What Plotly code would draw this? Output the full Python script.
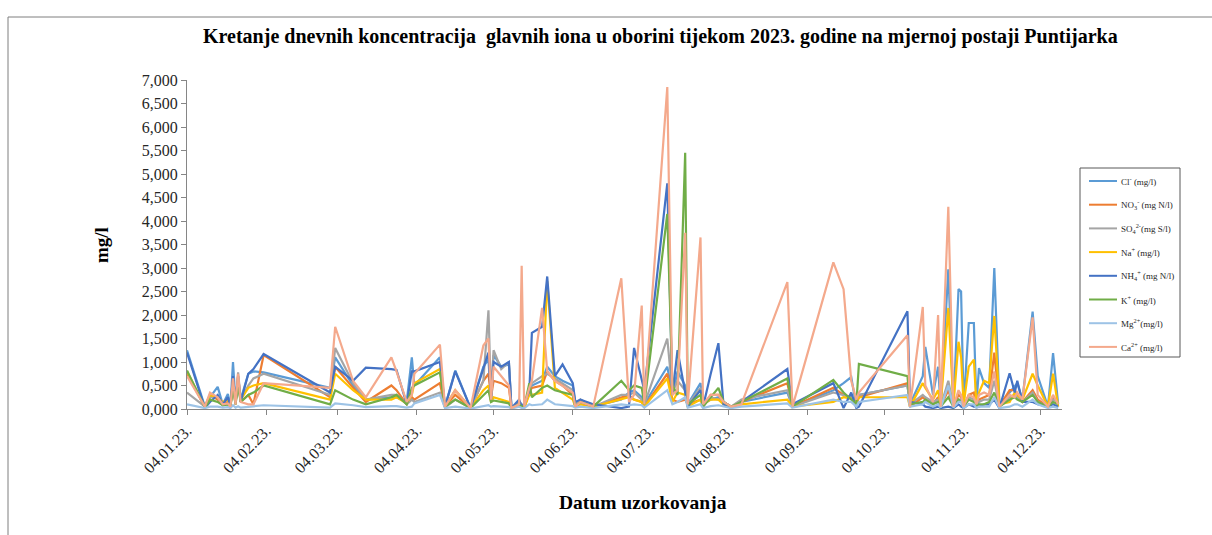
import plotly.graph_objects as go

# Sampling dates (daily precipitation samples, Puntijarka 2023)
dates = [
    "2023-01-04", "2023-01-11", "2023-01-13", "2023-01-16", "2023-01-18", "2023-01-20",
    "2023-01-21", "2023-01-22", "2023-01-23", "2023-01-24", "2023-01-25", "2023-01-28",
    "2023-01-30", "2023-02-03", "2023-03-01", "2023-03-03", "2023-03-10", "2023-03-15",
    "2023-03-25", "2023-03-27", "2023-03-31", "2023-04-02", "2023-04-03", "2023-04-13",
    "2023-04-15", "2023-04-19", "2023-04-25", "2023-04-30", "2023-05-02", "2023-05-03",
    "2023-05-04", "2023-05-07", "2023-05-10", "2023-05-11", "2023-05-14", "2023-05-15",
    "2023-05-16", "2023-05-18", "2023-05-19", "2023-05-23", "2023-05-25", "2023-05-28",
    "2023-05-31", "2023-06-04", "2023-06-05", "2023-06-07", "2023-06-12", "2023-06-23",
    "2023-06-26", "2023-06-28", "2023-07-01", "2023-07-02", "2023-07-11", "2023-07-13",
    "2023-07-15", "2023-07-18", "2023-07-19", "2023-07-24", "2023-07-25", "2023-07-28",
    "2023-07-31", "2023-08-02", "2023-08-05", "2023-08-09", "2023-08-27", "2023-08-29",
    "2023-09-14", "2023-09-18", "2023-09-21", "2023-09-23", "2023-09-24", "2023-10-13",
    "2023-10-14", "2023-10-19", "2023-10-20", "2023-10-23", "2023-10-25", "2023-10-26",
    "2023-10-29", "2023-10-31", "2023-11-02", "2023-11-03", "2023-11-04", "2023-11-06",
    "2023-11-08", "2023-11-09", "2023-11-10", "2023-11-12", "2023-11-14", "2023-11-16",
    "2023-11-18", "2023-11-22", "2023-11-24", "2023-11-25", "2023-11-27", "2023-12-01",
    "2023-12-03", "2023-12-07", "2023-12-09", "2023-12-11",
]

cl = [
    1.25, 0.05, 0.25, 0.47, 0.10, 0.32, 0.05, 1.00, 0.15, 0.70, 0.20, 0.75,
    0.80, 0.78, 0.45, 1.10, 0.50, 0.20, 0.25, 0.25, 0.15, 1.10, 0.50, 1.10,
    0.05, 0.82, 0.02, 0.90, 1.05, 0.20, 1.15, 0.90, 0.95, 0.02, 0.15, 0.10,
    0.05, 0.40, 0.50, 0.60, 0.90, 0.70, 0.60, 0.50, 0.10, 0.20, 0.05, 0.20,
    0.35, 0.40, 0.25, 0.10, 0.90, 0.30, 0.80, 0.50, 0.10, 0.55, 0.10, 0.20,
    0.25, 0.15, 0.05, 0.15, 0.35, 0.05, 0.40, 0.55, 0.68, 0.05, 0.30, 0.50,
    0.10, 0.70, 1.32, 0.30, 0.90, 0.05, 2.97, 0.05, 2.55, 2.50, 0.05, 1.83,
    1.83, 0.10, 0.87, 0.55, 0.45, 3.00, 0.10, 0.35, 0.50, 0.55, 0.20, 2.07,
    0.70, 0.05, 1.19, 0.10,
]
no3 = [
    0.75, 0.05, 0.30, 0.20, 0.10, 0.15, 0.05, 0.60, 0.10, 0.70, 0.15, 0.30,
    0.10, 1.15, 0.25, 0.90, 0.45, 0.15, 0.50, 0.40, 0.10, 0.25, 0.20, 0.55,
    0.05, 0.30, 0.02, 0.60, 0.75, 0.25, 0.60, 0.55, 0.45, 0.02, 0.10, 0.08,
    0.03, 0.35, 0.45, 0.50, 0.80, 0.60, 0.50, 0.30, 0.05, 0.15, 0.05, 0.25,
    0.30, 0.20, 0.15, 0.05, 0.75, 0.20, 0.15, 0.20, 0.10, 0.20, 0.05, 0.30,
    0.30, 0.15, 0.05, 0.15, 0.55, 0.05, 0.45, 0.30, 0.25, 0.10, 0.25, 0.55,
    0.05, 0.25, 0.20, 0.10, 0.25, 0.05, 0.40, 0.05, 0.30, 0.25, 0.05, 0.30,
    0.35, 0.05, 0.20, 0.25, 0.30, 1.20, 0.05, 0.40, 0.40, 0.30, 0.15, 0.40,
    0.20, 0.05, 0.25, 0.10,
]
so4 = [
    0.35, 0.05, 0.25, 0.25, 0.08, 0.10, 0.05, 0.55, 0.10, 0.78, 0.20, 0.50,
    0.65, 0.75, 0.30, 1.30, 0.55, 0.20, 0.30, 0.30, 0.10, 0.20, 0.15, 0.35,
    0.03, 0.20, 0.02, 0.60, 2.10, 0.25, 1.25, 0.85, 1.00, 0.02, 0.15, 0.08,
    0.03, 0.40, 0.55, 0.70, 0.75, 0.65, 0.55, 0.40, 0.10, 0.20, 0.05, 0.30,
    0.30, 0.35, 0.20, 0.10, 1.50, 0.35, 0.60, 0.40, 0.10, 0.45, 0.05, 0.25,
    0.20, 0.15, 0.05, 0.20, 0.40, 0.05, 0.35, 0.30, 0.25, 0.10, 0.30, 0.50,
    0.10, 0.30, 0.25, 0.15, 0.20, 0.05, 0.60, 0.05, 0.20, 0.20, 0.05, 0.25,
    0.20, 0.05, 0.15, 0.20, 0.20, 0.60, 0.05, 0.25, 0.30, 0.25, 0.15, 0.35,
    0.15, 0.05, 0.20, 0.15,
]
na = [
    0.80, 0.05, 0.30, 0.25, 0.15, 0.20, 0.05, 0.60, 0.15, 0.55, 0.20, 0.45,
    0.50, 0.55, 0.20, 0.75, 0.40, 0.20, 0.20, 0.25, 0.12, 0.30, 0.55, 0.85,
    0.05, 0.40, 0.02, 0.40, 0.50, 0.15, 0.25, 0.20, 0.15, 0.02, 0.10, 0.05,
    0.03, 0.30, 0.30, 0.35, 2.72, 0.45, 0.35, 0.20, 0.05, 0.10, 0.05, 0.20,
    0.25, 0.20, 0.15, 0.05, 0.65, 0.15, 0.35, 0.30, 0.05, 0.20, 0.10, 0.20,
    0.20, 0.10, 0.03, 0.10, 0.20, 0.05, 0.15, 0.25, 0.22, 0.15, 0.25, 0.25,
    0.05, 0.55, 0.45, 0.20, 0.40, 0.05, 2.15, 0.10, 1.43, 1.10, 0.10, 0.90,
    1.05, 0.10, 0.35, 0.60, 0.55, 1.98, 0.10, 0.15, 0.35, 0.30, 0.20, 0.75,
    0.50, 0.05, 0.75, 0.05,
]
nh4 = [
    1.20, 0.02, 0.15, 0.30, 0.10, 0.25, 0.05, 0.70, 0.15, 0.60, 0.15, 0.75,
    0.85, 1.17, 0.35, 0.90, 0.60, 0.88, 0.85, 0.83, 0.10, 0.80, 0.80, 1.00,
    0.05, 0.80, 0.02, 0.90, 1.20, 0.20, 1.00, 0.90, 1.00, 0.02, 0.20, 0.05,
    0.10, 0.40, 1.62, 1.75, 2.82, 0.70, 0.95, 0.55, 0.15, 0.20, 0.10, 0.02,
    0.05, 1.30, 0.60, 0.40, 4.80, 0.30, 1.25, 0.30, 0.05, 0.40, 0.05, 0.75,
    1.40, 0.10, 0.02, 0.15, 0.85, 0.10, 0.55, 0.02, 0.35, 0.02, 0.05, 2.08,
    0.15, 0.10, 0.05, 0.02, 0.05, 0.02, 0.05, 0.02, 0.10, 0.05, 0.02, 0.10,
    0.05, 0.05, 0.05, 0.10, 0.10, 0.20, 0.02, 0.76, 0.35, 0.60, 0.15, 0.15,
    0.10, 0.05, 0.10, 0.05,
]
k = [
    0.82, 0.03, 0.20, 0.15, 0.08, 0.10, 0.05, 0.45, 0.10, 0.50, 0.15, 0.30,
    0.35, 0.50, 0.10, 0.40, 0.20, 0.10, 0.25, 0.30, 0.10, 0.45, 0.50, 0.78,
    0.05, 0.20, 0.02, 0.30, 0.40, 0.15, 0.18, 0.15, 0.12, 0.02, 0.10, 0.05,
    0.05, 0.55, 0.25, 0.45, 0.50, 0.40, 0.35, 0.30, 0.05, 0.15, 0.05, 0.60,
    0.40, 0.50, 0.45, 0.10, 4.15, 0.50, 0.30, 5.45, 0.10, 0.30, 0.05, 0.25,
    0.45, 0.15, 0.05, 0.15, 0.65, 0.05, 0.62, 0.35, 0.20, 0.10, 0.96, 0.70,
    0.10, 0.15, 0.20, 0.10, 0.15, 0.05, 0.25, 0.05, 0.20, 0.15, 0.05, 0.20,
    0.15, 0.05, 0.10, 0.10, 0.15, 0.35, 0.05, 0.20, 0.25, 0.20, 0.15, 0.30,
    0.15, 0.05, 0.15, 0.10,
]
mg = [
    0.10, 0.02, 0.05, 0.05, 0.03, 0.04, 0.02, 0.08, 0.03, 0.06, 0.03, 0.05,
    0.05, 0.08, 0.03, 0.12, 0.08, 0.04, 0.06, 0.06, 0.03, 0.05, 0.12, 0.30,
    0.02, 0.05, 0.01, 0.05, 0.08, 0.05, 0.06, 0.05, 0.04, 0.01, 0.05, 0.02,
    0.02, 0.10, 0.08, 0.10, 0.20, 0.10, 0.08, 0.06, 0.03, 0.05, 0.02, 0.10,
    0.08, 0.10, 0.08, 0.03, 0.40, 0.10, 0.15, 0.25, 0.03, 0.10, 0.02, 0.06,
    0.08, 0.05, 0.02, 0.05, 0.12, 0.03, 0.20, 0.15, 0.15, 0.05, 0.15, 0.30,
    0.05, 0.10, 0.15, 0.05, 0.10, 0.03, 0.50, 0.03, 0.15, 0.15, 0.02, 0.10,
    0.10, 0.02, 0.05, 0.05, 0.05, 0.25, 0.02, 0.05, 0.10, 0.10, 0.05, 0.20,
    0.10, 0.02, 0.05, 0.02,
]
ca = [
    0.70, 0.05, 0.35, 0.25, 0.10, 0.12, 0.05, 0.65, 0.10, 0.75, 0.15, 0.10,
    0.10, 0.55, 0.45, 1.75, 0.60, 0.25, 1.10, 0.80, 0.15, 0.30, 0.75, 1.37,
    0.05, 0.40, 0.02, 1.35, 1.50, 0.20, 0.90, 0.70, 0.50, 0.02, 0.10, 3.05,
    0.05, 0.45, 0.60, 2.15, 0.80, 0.60, 0.50, 0.35, 0.05, 0.15, 0.05, 2.78,
    0.15, 0.30, 2.20, 0.10, 6.85, 0.30, 0.40, 3.75, 0.10, 3.65, 0.10, 0.30,
    0.30, 0.15, 0.05, 0.10, 2.70, 0.05, 3.12, 2.55, 0.60, 0.20, 0.35, 1.57,
    0.05, 2.17, 0.50, 0.15, 2.00, 0.05, 4.30, 0.05, 0.40, 0.30, 0.05, 0.30,
    0.25, 0.10, 0.30, 0.35, 0.30, 0.80, 0.05, 0.30, 0.25, 0.35, 0.20, 1.95,
    0.30, 0.05, 0.30, 0.10,
]

series_names = [
    "Cl<sup>-</sup> (mg/l)",
    "NO<sub>3</sub><sup>-</sup> (mg N/l)",
    "SO<sub>4</sub><sup>2-</sup>(mg S/l)",
    "Na<sup>+</sup> (mg/l)",
    "NH<sub>4</sub><sup>+</sup> (mg N/l)",
    "K<sup>+</sup> (mg/l)",
    "Mg<sup>2+</sup>(mg/l)",
    "Ca<sup>2+</sup> (mg/l)",
]
series_values = [cl, no3, so4, na, nh4, k, mg, ca]
series_colors = ["#5B9BD5", "#ED7D31", "#A5A5A5", "#FFC000",
                 "#4472C4", "#70AD47", "#9DC3E6", "#F4A98C"]

# plot area in pixels
W, H = 1212, 535
L, R, T, B = 187, 150, 80, 126
PW, PH = W - L - R, H - T - B


def px(x):
    return (x - L) / PW


def py(y):
    return (H - B - y) / PH


serif = "Liberation Serif"
axis_grey = "#868686"

fig = go.Figure()
for name, vals, col in zip(series_names, series_values, series_colors):
    fig.add_trace(go.Scatter(
        x=dates, y=vals, name=name, mode="lines",
        line=dict(color=col, width=2.2), showlegend=False,
    ))

fig.update_layout(
    width=W, height=H,
    margin=dict(l=L, r=R, t=T, b=B, pad=0),
    paper_bgcolor="white", plot_bgcolor="white",
    separators=",.",
    font=dict(family=serif, size=16, color="#262626"),
    xaxis=dict(
        type="date",
        range=["2023-01-04", "2023-12-12 12:00"],
        tick0="2023-01-04", dtick="M1",
        tickformat="%d.%m.%y.",
        tickangle=-45,
        ticks="outside", ticklen=5, tickcolor=axis_grey,
        showline=True, linecolor=axis_grey, linewidth=1,
        showgrid=False, zeroline=False,
        tickfont=dict(family=serif, size=16, color="#262626"),
    ),
    yaxis=dict(
        range=[0, 7], dtick=0.5, tick0=0,
        tickformat=".3f",
        ticks="outside", ticklen=5, tickcolor=axis_grey,
        showline=True, linecolor=axis_grey, linewidth=1,
        showgrid=False, zeroline=False,
        tickfont=dict(family=serif, size=16, color="#262626"),
    ),
)

annotations = [
    dict(text="<b>Kretanje dnevnih koncentracija  glavnih iona u oborini tijekom 2023. godine na mjernoj postaji Puntijarka</b>",
         x=px(660), y=py(37), xanchor="center", yanchor="middle",
         font=dict(family=serif, size=20, color="black")),
    dict(text="<b>mg/l</b>", textangle=-90,
         x=px(101), y=py(245), xanchor="center", yanchor="middle",
         font=dict(family=serif, size=19, color="black")),
    dict(text="<b>Datum uzorkovanja</b>",
         x=px(643), y=py(503), xanchor="center", yanchor="middle",
         font=dict(family=serif, size=19.5, color="black")),
]

shapes = [
    # outer chart frame (left and top edges)
    dict(type="line", xref="paper", yref="paper",
         x0=px(8), y0=py(H + 5), x1=px(8), y1=py(17),
         line=dict(color="#7F7F7F", width=1)),
    dict(type="line", xref="paper", yref="paper",
         x0=px(8), y0=py(17), x1=px(W + 5), y1=py(17),
         line=dict(color="#7F7F7F", width=1)),
    # legend box
    dict(type="rect", xref="paper", yref="paper",
         x0=px(1080), y0=py(357), x1=px(1180), y1=py(168),
         line=dict(color="#595959", width=1), fillcolor="white"),
]

# legend entries
for i, (name, col) in enumerate(zip(series_names, series_colors)):
    yc = 181 + i * 23.7
    shapes.append(dict(type="line", xref="paper", yref="paper",
                       x0=px(1089), x1=px(1117), y0=py(yc), y1=py(yc),
                       line=dict(color=col, width=2)))
    annotations.append(dict(text=name, x=px(1119), y=py(yc),
                            xanchor="left", yanchor="middle", showarrow=False,
                            font=dict(family=serif, size=9, color="#262626")))

for a in annotations:
    a.setdefault("showarrow", False)
    a["xref"] = "paper"
    a["yref"] = "paper"

fig.update_layout(annotations=annotations, shapes=shapes)
fig.write_html("out.html")
